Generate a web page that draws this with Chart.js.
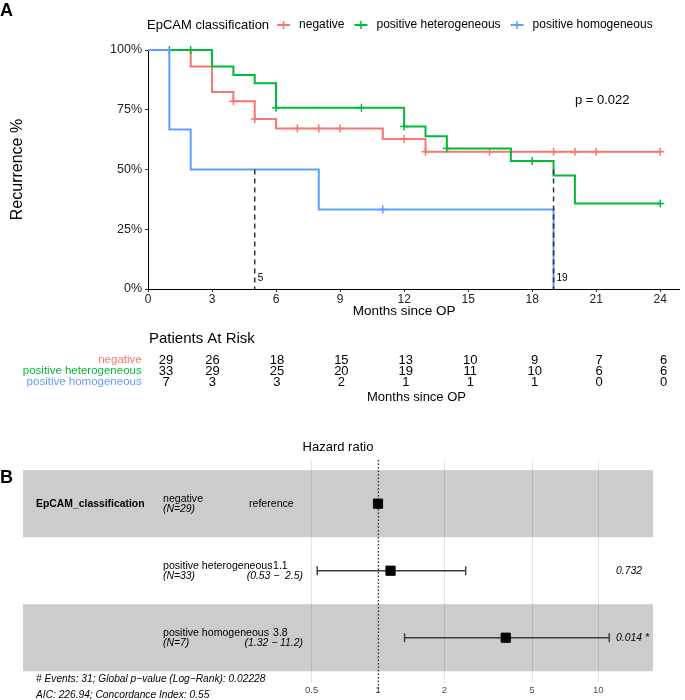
<!DOCTYPE html>
<html><head><meta charset="utf-8">
<script src="https://cdn.jsdelivr.net/npm/chart.js@4.4.1/dist/chart.umd.min.js"></script>
<style>
body{margin:0;background:#fff;width:685px;height:700px;overflow:hidden;position:relative;}
.p{position:absolute;left:0;}
</style></head><body>
<div class="p" style="top:0"><canvas id="km" width="685" height="330"></canvas></div>
<div class="p" style="top:330px"><canvas id="risk" width="685" height="80"></canvas></div>
<div class="p" style="top:410px"><canvas id="forest" width="685" height="290"></canvas></div>
<script>
const FONT = '"Liberation Sans", Arial, Helvetica, sans-serif';

// ---- Kaplan-Meier data ----
const legendTitle = 'EpCAM classification';
const groups = ['negative', 'positive heterogeneous', 'positive homogeneous'];
const colors = ['#F8766D', '#00BA38', '#619CFF'];

const negTime = [0, 2, 3, 4, 5, 6, 11, 13, 24];
const negSurv = [100, 93.1, 82.4, 78.6, 71.1, 67.2, 62.8, 57.4, 57.4];
const negCensor = [4, 5, 7, 8, 9, 12, 13, 16, 19, 20, 21, 24];

const hetTime = [0, 3, 4, 5, 6, 12, 13, 14, 17, 19, 20, 24];
const hetSurv = [100, 93.1, 89.5, 86.1, 75.8, 68.0, 63.9, 58.8, 53.6, 47.5, 35.8, 35.8];
const hetCensor = [1, 2, 6, 10, 12, 14, 18, 24];

const homTime = [0, 1, 2, 8, 19];
const homSurv = [100, 66.7, 50, 33.3, 0];
const homCensor = [11];

const kmXTicks = [0, 3, 6, 9, 12, 15, 18, 21, 24];
const kmYTicks = [0, 25, 50, 75, 100];
const kmXTitle = 'Months since OP';
const medianTimes = [5, 19];
const pText = 'p = 0.022';
const pCoord = [20, 79];

// ---- Risk table ----
const riskTitle = 'Patients At Risk';
const riskTimes = [0, 3, 6, 9, 12, 15, 18, 21, 24];
const riskNeg = [29, 26, 18, 15, 13, 10, 9, 7, 6];
const riskHet = [33, 29, 25, 20, 19, 11, 10, 6, 6];
const riskHom = [7, 3, 3, 2, 1, 1, 1, 0, 0];

// ---- Forest plot ----
const hrVariable = 'EpCAM_classification';
const hrLevels = ['negative', 'positive heterogeneous', 'positive homogeneous'];
const hrN = [29, 33, 7];
const hrEst = [1, 1.14, 3.8];
const hrLow = [null, 0.53, 1.32];
const hrHigh = [null, 2.5, 11.2];
const hrEstText = ['reference', '1.1', '3.8'];
const hrCIText = ['', '(0.53 \u2212  2.5)', '(1.32 \u2212 11.2)'];
const hrPText = ['', '0.732', '0.014 *'];
const hrTicks = [0.5, 1, 2, 5, 10];
const hrTitle = 'Hazard ratio';
const footer = ['# Events: 31; Global p\u2212value (Log\u2212Rank): 0.02228', 'AIC: 226.94; Concordance Index: 0.55'];

Chart.defaults.font.family = FONT;
Chart.defaults.color = '#000';

function survAt(times, surv, t) {
  let v = surv[0];
  for (let i = 0; i < times.length; i++) if (times[i] <= t) v = surv[i];
  return v;
}
const pts = (t, s) => t.map((x, i) => ({x, y: s[i]}));
const cens = (c, t, s) => c.map(x => ({x, y: survAt(t, s, x)}));

const curves = [
  {t: negTime, s: negSurv, c: negCensor},
  {t: hetTime, s: hetSurv, c: hetCensor},
  {t: homTime, s: homSurv, c: homCensor}
];

const kmDatasets = [];
medianTimes.forEach(m => kmDatasets.push({
  data: [{x: m, y: 50}, {x: m, y: 0}], borderColor: '#333', borderWidth: 1.5,
  borderDash: [5, 4], pointRadius: 0, order: 0, clip: false
}));
curves.forEach((cv, i) => {
  kmDatasets.push({
    data: pts(cv.t, cv.s), borderColor: colors[i], borderWidth: 2, stepped: true,
    pointRadius: 0, fill: false, order: 10 - i * 3, clip: false
  });
  kmDatasets.push({
    data: cens(cv.c, cv.t, cv.s), showLine: false, pointStyle: 'cross', pointRadius: 4,
    pointBorderWidth: 1.5, pointBorderColor: colors[i], pointBackgroundColor: colors[i],
    order: 9 - i * 3, clip: false
  });
});

const kmPlugin = {
  id: 'kmText',
  afterDraw(chart) {
    const {ctx, scales: {x, y}} = chart;
    ctx.save();
    ctx.fillStyle = '#000';
    ctx.textAlign = 'left'; ctx.textBaseline = 'middle';
    ctx.font = 'bold 18px ' + FONT;
    ctx.fillText('A', 0, 11);
    let lx = x.left - 1; const ly = 25;
    ctx.font = '13px ' + FONT;
    ctx.fillText(legendTitle, lx, ly);
    lx += ctx.measureText(legendTitle).width + 8;
    ctx.font = '12px ' + FONT;
    groups.forEach((g, i) => {
      ctx.strokeStyle = colors[i]; ctx.lineWidth = 2;
      ctx.beginPath(); ctx.moveTo(lx, ly); ctx.lineTo(lx + 13, ly); ctx.stroke();
      ctx.lineWidth = 1.5;
      ctx.beginPath(); ctx.moveTo(lx + 6.5, ly - 4); ctx.lineTo(lx + 6.5, ly + 4); ctx.stroke();
      ctx.fillStyle = '#000';
      ctx.fillText(g, lx + 22, ly);
      lx += 22 + ctx.measureText(g).width + 10;
    });
    ctx.font = '13px ' + FONT;
    ctx.fillText(pText, x.getPixelForValue(pCoord[0]), y.getPixelForValue(pCoord[1]));
    ctx.font = '10px ' + FONT;
    medianTimes.forEach(m => ctx.fillText(String(m), x.getPixelForValue(m) + 3, y.getPixelForValue(0) - 11));
    // x-axis title centred on the 0..24 month range
    ctx.textAlign = 'center';
    ctx.font = '13.5px ' + FONT;
    const xc = (x.getPixelForValue(kmXTicks[0]) + x.getPixelForValue(kmXTicks[kmXTicks.length - 1])) / 2;
    ctx.fillText(kmXTitle, xc, 311);
    ctx.restore();
  }
};

new Chart(document.getElementById('km'), {
  type: 'line',
  data: {datasets: kmDatasets},
  options: {
    responsive: false, animation: false, devicePixelRatio: 1,
    layout: {padding: {top: 50, right: 2, left: 0, bottom: 0}},
    plugins: {legend: {display: false}, tooltip: {enabled: false}},
    scales: {
      x: {
        type: 'linear', min: 0, max: 24.9,
        afterBuildTicks: s => { s.ticks = kmXTicks.map(v => ({value: v})); },
        afterFit: s => { s.height = 41; },
        grid: {display: true, drawOnChartArea: false, drawTicks: true, tickLength: 3, color: '#333'},
        border: {display: true, color: '#000', width: 1},
        ticks: {font: {size: 12}, color: '#222', padding: 0, maxRotation: 0, autoSkip: false}
      },
      y: {
        type: 'linear', min: 0, max: 100,
        afterBuildTicks: s => { s.ticks = kmYTicks.map(v => ({value: v})); },
        afterFit: s => { s.width = 148; },
        grid: {display: true, drawOnChartArea: false, drawTicks: true, tickLength: 3, color: '#333'},
        border: {display: true, color: '#000', width: 1},
        ticks: {callback: v => v + '%', font: {size: 12.5}, color: '#222', padding: 3, autoSkip: false},
        title: {display: true, text: 'Recurrence %', font: {size: 16}, color: '#000', padding: {top: 8.4, bottom: 0}}
      }
    }
  },
  plugins: [kmPlugin]
});

// ---- Risk table chart ----
const riskRows = [riskNeg, riskHet, riskHom];
const riskPlugin = {
  id: 'riskText',
  afterDraw(chart) {
    const {ctx, scales: {x, y}, chartArea} = chart;
    ctx.save();
    ctx.fillStyle = '#000';
    ctx.textBaseline = 'middle';
    ctx.textAlign = 'left';
    ctx.font = '15px ' + FONT;
    ctx.fillText(riskTitle, 149, 9);
    ctx.textAlign = 'center';
    ctx.font = '13px ' + FONT;
    riskRows.forEach((row, r) => {
      row.forEach((n, j) => {
        const px = Math.max(x.getPixelForValue(riskTimes[j]), chartArea.left);
        ctx.fillText(String(n), px, y.getPixelForValue(r));
      });
    });
    ctx.restore();
  }
};
new Chart(document.getElementById('risk'), {
  type: 'scatter',
  data: {datasets: [{data: []}]},
  options: {
    responsive: false, animation: false, devicePixelRatio: 1,
    layout: {padding: {top: 30, right: 18, left: 0, bottom: 0}},
    plugins: {legend: {display: false}, tooltip: {enabled: false}},
    scales: {
      x: {
        type: 'linear', min: 0.838, max: 24.156,
        afterFit: s => { s.height = 27.7; },
        grid: {display: false, drawTicks: false}, border: {display: false},
        ticks: {display: false},
        title: {display: true, text: 'Months since OP', font: {size: 13}, color: '#000', padding: {top: 0, bottom: 5.2}}
      },
      y: {
        type: 'linear', min: 0, max: 2, reverse: true,
        afterBuildTicks: s => { s.ticks = groups.map((g, i) => ({value: i})); },
        afterFit: s => { s.width = 166; s.paddingTop = 0; s.paddingBottom = 0; },
        grid: {display: false, drawTicks: false}, border: {display: false},
        ticks: {callback: v => groups[v], color: c => colors[c.index], font: {size: 11.5}, padding: 24.3, autoSkip: false}
      }
    }
  },
  plugins: [riskPlugin]
});

// ---- Forest plot chart ----
const forestPlugin = {
  id: 'forest',
  beforeDraw(chart) {
    const {ctx, scales: {y}, chartArea} = chart;
    ctx.save();
    ctx.fillStyle = '#cccccc';
    hrLevels.forEach((l, i) => {
      if (i % 2 === 0) {
        const y0 = y.getPixelForValue(i - 0.5), y1 = y.getPixelForValue(i + 0.5);
        ctx.fillRect(chartArea.left, y0, chartArea.right - chartArea.left, y1 - y0);
      }
    });
    ctx.restore();
  },
  beforeDatasetsDraw(chart) {
    const {ctx, scales: {x, y}, chartArea} = chart;
    ctx.save();
    ctx.strokeStyle = '#333'; ctx.lineWidth = 1.2;
    ctx.setLineDash([1.5, 2]);
    const x1 = Math.round(x.getPixelForValue(1)) + 0.5;
    ctx.beginPath(); ctx.moveTo(x1, chartArea.top); ctx.lineTo(x1, chart.height - 7); ctx.stroke();
    ctx.setLineDash([]);
    ctx.strokeStyle = '#3a3a3a'; ctx.lineWidth = 1.4;
    hrLevels.forEach((l, i) => {
      if (hrLow[i] == null) return;
      const a = x.getPixelForValue(hrLow[i]), b = x.getPixelForValue(hrHigh[i]), py = y.getPixelForValue(i);
      ctx.beginPath();
      ctx.moveTo(a, py); ctx.lineTo(b, py);
      ctx.moveTo(a, py - 4.5); ctx.lineTo(a, py + 4.5);
      ctx.moveTo(b, py - 4.5); ctx.lineTo(b, py + 4.5);
      ctx.stroke();
    });
    ctx.restore();
  },
  afterDraw(chart) {
    const {ctx, scales: {y}} = chart;
    ctx.save();
    ctx.fillStyle = '#000';
    ctx.textBaseline = 'middle';
    ctx.textAlign = 'left';
    ctx.font = 'bold 18px ' + FONT;
    ctx.fillText('B', 0, 68);
    ctx.textAlign = 'center';
    ctx.font = '13px ' + FONT;
    ctx.fillText(hrTitle, 338, 37);
    ctx.textAlign = 'left';
    hrLevels.forEach((l, i) => {
      const py = y.getPixelForValue(i);
      if (i === 0) {
        ctx.font = 'bold 10.4px ' + FONT;
        ctx.fillText(hrVariable, 36, py);
      }
      ctx.font = '10.6px ' + FONT;
      ctx.fillText(l, 163, py - 4.5);
      ctx.font = 'italic 10.4px ' + FONT;
      ctx.fillText('(N=' + hrN[i] + ')', 163, py + 5.5);
      if (hrLow[i] == null) {
        ctx.font = '10.6px ' + FONT;
        ctx.fillText(hrEstText[i], 249, py);
      } else {
        ctx.font = '10.6px ' + FONT;
        ctx.fillText(hrEstText[i], 273, py - 4.5);
        ctx.font = 'italic 10.4px ' + FONT;
        ctx.textAlign = 'right';
        ctx.fillText(hrCIText[i], 303, py + 5.5);
        ctx.textAlign = 'left';
        ctx.fillText(hrPText[i], 616, py);
      }
    });
    ctx.font = 'italic 10.2px ' + FONT;
    ctx.fillText(footer[0], 36, 269);
    ctx.fillText(footer[1], 36, 285);
    ctx.restore();
  }
};

new Chart(document.getElementById('forest'), {
  type: 'scatter',
  data: {datasets: [{
    data: hrEst.map((v, i) => ({x: v, y: i})),
    pointStyle: 'rect', pointRadius: 6.5, backgroundColor: '#000', borderColor: '#000',
    borderWidth: 1, clip: false
  }]},
  options: {
    responsive: false, animation: false, devicePixelRatio: 1,
    layout: {padding: {top: 50, right: 32, left: 23, bottom: 0}},
    plugins: {legend: {display: false}, tooltip: {enabled: false}},
    scales: {
      x: {
        type: 'logarithmic', min: 0.0245, max: 17.7,
        afterBuildTicks: s => { s.ticks = hrTicks.map(v => ({value: v})); },
        afterFit: s => { s.height = 17; },
        grid: {color: 'rgba(0,0,0,0.1)', lineWidth: 1, drawTicks: false},
        border: {display: false},
        ticks: {callback: v => String(v), font: {size: 9.5}, color: '#4d4d4d', padding: 1.3, maxRotation: 0, autoSkip: false}
      },
      y: {type: 'linear', display: false, reverse: true, min: -0.652, max: 2.676}
    }
  },
  plugins: [forestPlugin]
});
</script>
</body></html>
